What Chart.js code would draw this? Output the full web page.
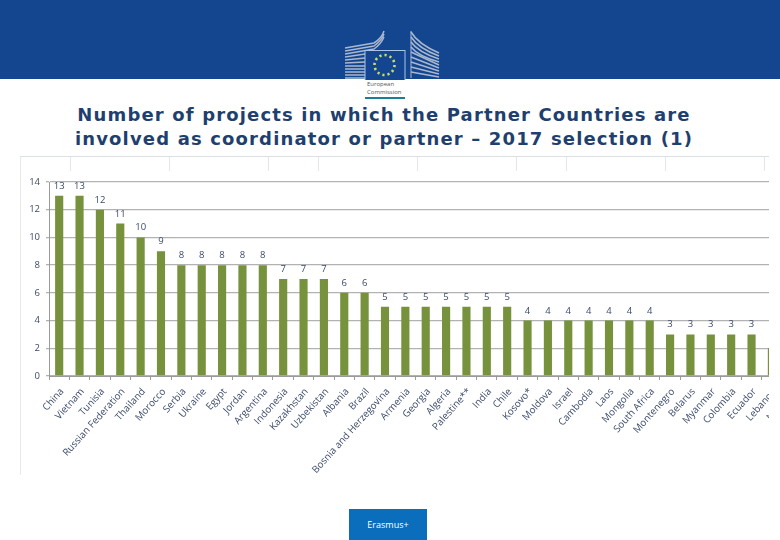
<!DOCTYPE html>
<html><head><meta charset="utf-8">
<script src="https://cdn.jsdelivr.net/npm/chart.js@4"></script>
<style>
html,body{margin:0;padding:0;background:#fff;width:780px;height:540px;overflow:hidden;font-family:"Open Sans",sans-serif}
#band{position:absolute;left:0;top:0;width:780px;height:79px;background:#14468f}
#logo{position:absolute;left:340px;top:28px}
#ec{position:absolute;left:367px;top:81px;font:6px/7.5px "Open Sans",sans-serif;color:#555}
#ecbar{position:absolute;left:365px;top:97px;width:40px;height:2px;background:#1a7f96}
#title{position:absolute;left:0;top:103px;width:768px;text-align:center;font:bold 18px/24px "DejaVu Sans",sans-serif;letter-spacing:1.15px;color:#1f3f6e}
#panel{position:absolute;left:20px;top:156px;width:749px;height:319px;overflow:hidden;border-top:1px solid #d9e0e6;border-left:1px solid #e6eaee;box-sizing:border-box;
 background:repeating-linear-gradient(90deg,transparent 0,transparent 49px,#e3e7eb 49px,#e3e7eb 49.6px) 0 0/100% 14px no-repeat}
#wrap{position:absolute;left:-1px;top:-1px;width:787px;height:320px}
#btn{position:absolute;left:349px;top:509px;width:78px;height:31px;background:#0a6ebd;color:#fff;text-align:center;font:9px/31px "Open Sans",sans-serif}
</style></head><body>
<div id="band"></div>
<svg id="logo" width="100" height="52" viewBox="0 0 100 52">
 <g fill="none" stroke="#a9b8cf" stroke-width="1.5">
  <path d="M5 20 L34 15 Q42 10 44 3"/><path d="M5 23 L34 18 Q42 12 44 6"/><path d="M5 26 L34 21 Q41 16 44 9"/><path d="M5 29 L25 26"/><path d="M5 32 L25 30"/><path d="M5 35 L25 34"/><path d="M5 38 L25 38"/><path d="M5 41 L25 41"/><path d="M5 44 L25 44"/><path d="M5 47 L25 47"/><path d="M5 50 L25 50"/>
  <path d="M71 3 V50" stroke-width="1"/><path d="M71 4 Q78 16 99 25"/><path d="M71 9 Q78 20 99 28"/><path d="M71 14 Q78 24 99 31"/><path d="M71 19 Q78 28 99 34"/><path d="M71 24 L99 37"/><path d="M71 29 L99 40"/><path d="M71 34 L99 43"/><path d="M71 39 L99 46"/><path d="M71 44 L99 49"/>
 </g>
 <rect x="25" y="22.5" width="40" height="30" fill="#134590" stroke="#a9c6e6"/>
 <circle cx="44.5" cy="37" r="10" fill="none" stroke="#c8dc6a" stroke-width="2.6" stroke-dasharray="2.2 3"/>
</svg>
<div id="ec">European<br>Commission</div><div id="ecbar"></div>
<div id="title">Number of projects in which the Partner Countries are<br>involved as coordinator or partner – 2017 selection (1)</div>
<div id="panel"><div id="wrap"><canvas id="c" width="787" height="320"></canvas></div></div>
<div id="btn">Erasmus+</div>
<script>
const categories=["China","Vietnam","Tunisia","Russian Federation","Thailand","Morocco","Serbia","Ukraine","Egypt","Jordan","Argentina","Indonesia","Kazakhstan","Uzbekistan","Albania","Brazil","Bosnia and Herzegovina","Armenia","Georgia","Algeria","Palestine**","India","Chile","Kosovo*","Moldova","Israel","Cambodia","Laos","Mongolia","South Africa","Montenegro","Belarus","Myanmar","Colombia","Ecuador","Lebanon","Malaysia"];
const projects=[13,13,12,11,10,9,8,8,8,8,8,7,7,7,6,6,5,5,5,5,5,5,5,4,4,4,4,4,4,4,3,3,3,3,3,2,2];
const yTicks=[0,2,4,6,8,10,12,14];
const labelColor="#3b4a6b";
const valueLabels={id:"valueLabels",afterDatasetsDraw(ch){
  const c=ch.ctx,m=ch.getDatasetMeta(0);
  c.save();c.font='9.5px "Open Sans",sans-serif';c.fillStyle=labelColor;c.textAlign="center";c.textBaseline="bottom";
  m.data.forEach((b,i)=>c.fillText(projects[i],b.x,b.y-5));
  c.restore();
}};
new Chart(document.getElementById("c"),{
 type:"bar",
 data:{labels:categories,datasets:[{data:projects,backgroundColor:"#76923c",categoryPercentage:1,barPercentage:0.4}]},
 plugins:[valueLabels],
 options:{responsive:false,animation:false,devicePixelRatio:1,
  layout:{padding:{top:26,right:0,bottom:0,left:0}},
  plugins:{legend:{display:false},tooltip:{enabled:false}},
  scales:{
   x:{grid:{display:true,drawOnChartArea:false,drawTicks:true,tickLength:4,color:"#9a9a9a"},border:{color:"#9a9a9a"},
      afterFit(s){s.height=100},
      ticks:{autoSkip:false,minRotation:48,maxRotation:48,padding:6,labelOffset:3,color:labelColor,font:{size:9.8,family:'"Open Sans",sans-serif'}}},
   y:{min:0,max:14,afterFit(s){s.width=29},afterBuildTicks(s){s.ticks=yTicks.map(v=>({value:v}))},
      grid:{color:"#b2b2b2",lineWidth:1.3,tickLength:3},border:{color:"#9a9a9a"},
      ticks:{padding:6,color:labelColor,font:{size:9.5,family:'"Open Sans",sans-serif'}}}
  }
 }
});
</script>
</body></html>
